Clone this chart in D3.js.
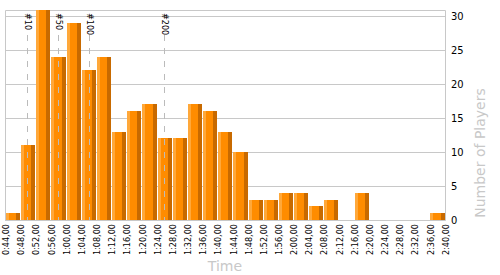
<!DOCTYPE html>
<html>
<head>
<meta charset="utf-8">
<script src="https://cdn.jsdelivr.net/npm/d3@7"></script>
<style>
  html, body { margin: 0; padding: 0; background: #fff; }
  svg { display: block; }
</style>
</head>
<body>
<div id="chart"></div>
<script>
// Bin edges (tick labels) and player counts per bin
const tickLabels = [
    "0:44,00", "0:48,00", "0:52,00", "0:56,00", "1:00,00", "1:04,00", "1:08,00", "1:12,00",
    "1:16,00", "1:20,00", "1:24,00", "1:28,00", "1:32,00", "1:36,00", "1:40,00", "1:44,00",
    "1:48,00", "1:52,00", "1:56,00", "2:00,00", "2:04,00", "2:08,00", "2:12,00", "2:16,00",
    "2:20,00", "2:24,00", "2:28,00", "2:32,00", "2:36,00", "2:40,00"
];
const counts = [1, 11, 31, 24, 29, 22, 24, 13, 16, 17, 12, 12, 17, 16, 13, 10, 3, 3, 4, 4, 2, 3, 0, 4, 0, 0, 0, 0, 1];

// Rank markers (time of the n-th player, in seconds)
const markerLabels = ["#10", "#50", "#100", "#200"];
const markerTimes = [49.6, 57.8, 65.8, 85.8];

const yTicks = [0, 5, 10, 15, 20, 25, 30];

const width = 500, height = 275;
const plot = { left: 5, right: 445.6, top: 10, bottom: 220 };

const toSec = s => {
    const [m, rest] = s.split(":");
    return +m * 60 + parseFloat(rest.replace(",", "."));
};
const tickSecs = tickLabels.map(toSec);

const x = d3.scaleLinear()
    .domain([tickSecs[0], tickSecs[tickSecs.length - 1]])
    .range([6, plot.right]);

const y = d3.scaleLinear()
    .domain([0, 30.88])
    .range([plot.bottom, plot.top])
    .clamp(true);

const svg = d3.select("#chart").append("svg")
    .attr("width", width)
    .attr("height", height);

const gridColor = "#c8c8c8";

// Horizontal grid
svg.append("g").selectAll("line")
    .data(yTicks)
    .join("line")
    .attr("x1", plot.left).attr("x2", plot.right)
    .attr("y1", d => Math.round(y(d)) + 0.5)
    .attr("y2", d => Math.round(y(d)) + 0.5)
    .attr("stroke", gridColor);

// Frame: top, left, right axis
svg.append("path")
    .attr("d", `M${plot.left + 0.5},${plot.bottom + 0.5}V${plot.top + 0.5}H${Math.round(plot.right) - 0.5}V${plot.bottom + 0.5}`)
    .attr("fill", "none")
    .attr("stroke", gridColor);

// Bars
const bars = svg.append("g").selectAll("g")
    .data(counts.map((c, i) => ({ c, x0: x(tickSecs[i]), x1: x(tickSecs[i + 1]) })))
    .join("g")
    .filter(d => d.c > 0);

const bw = d => Math.round(d.x1) - Math.round(d.x0) - 1;
bars.append("rect")
    .attr("x", d => Math.round(d.x0))
    .attr("y", d => Math.round(y(d.c)))
    .attr("width", bw)
    .attr("height", d => plot.bottom - Math.round(y(d.c)))
    .attr("fill", "#ff8c00");
bars.append("rect")
    .attr("x", d => Math.round(d.x0))
    .attr("y", d => Math.round(y(d.c)))
    .attr("width", 3)
    .attr("height", d => plot.bottom - Math.round(y(d.c)))
    .attr("fill", "#ffa83a");
bars.append("rect")
    .attr("x", d => Math.round(d.x0) + bw(d) - 4)
    .attr("y", d => Math.round(y(d.c)))
    .attr("width", 4)
    .attr("height", d => plot.bottom - Math.round(y(d.c)))
    .attr("fill", "#c86a00");

// Rank markers
const markers = svg.append("g").selectAll("g")
    .data(markerTimes.map((t, i) => ({ t, label: markerLabels[i] })))
    .join("g");
markers.append("line")
    .attr("x1", d => Math.round(x(d.t)) + 0.5)
    .attr("x2", d => Math.round(x(d.t)) + 0.5)
    .attr("y1", 35).attr("y2", plot.bottom)
    .attr("stroke", "#bbb")
    .attr("stroke-dasharray", "6,7");
markers.append("text")
    .attr("transform", d => `translate(${Math.round(x(d.t)) - 2},13) rotate(90)`)
    .attr("font-family", "DejaVu Sans Condensed, DejaVu Sans, sans-serif")
    .attr("font-size", 9)
    .attr("fill", "#000")
    .text(d => d.label);

// X tick labels
svg.append("g").selectAll("text")
    .data(tickLabels)
    .join("text")
    .attr("transform", (d, i) => `translate(${x(tickSecs[i])},224) rotate(-90)`)
    .attr("text-anchor", "end")
    .attr("dy", "0.35em")
    .attr("font-family", "DejaVu Sans Condensed, DejaVu Sans, sans-serif")
    .attr("font-size", 9)
    .attr("fill", "#000")
    .text(d => d);

// Y tick labels (right side)
svg.append("g").selectAll("text")
    .data(yTicks)
    .join("text")
    .attr("x", 451)
    .attr("y", d => y(d))
    .attr("dy", "0.36em")
    .attr("font-family", "DejaVu Sans Condensed, DejaVu Sans, sans-serif")
    .attr("font-size", 11)
    .attr("fill", "#000")
    .text(d => d);

// Axis titles
svg.append("text")
    .attr("x", 225).attr("y", 271)
    .attr("text-anchor", "middle")
    .attr("font-family", "DejaVu Sans, sans-serif")
    .attr("font-size", 14)
    .attr("fill", "#c8c8c8")
    .text("Time");

svg.append("text")
    .attr("transform", "translate(485,153) rotate(-90)")
    .attr("text-anchor", "middle")
    .attr("font-family", "DejaVu Sans, sans-serif")
    .attr("font-size", 14)
    .attr("fill", "#c8c8c8")
    .text("Number of Players");
</script>
</body>
</html>
